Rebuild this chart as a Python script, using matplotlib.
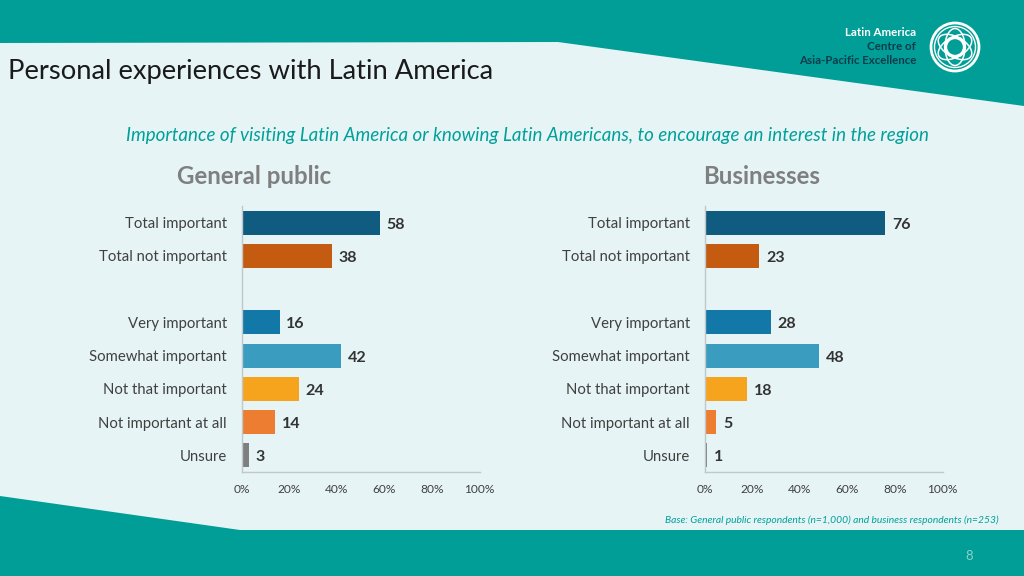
import matplotlib
matplotlib.use("Agg")
import matplotlib.pyplot as plt
from matplotlib.patches import Polygon, Circle, Ellipse

# ============================================================
# DATA
# ============================================================

categories = [
    "Total important",
    "Total not important",
    "",
    "Very important",
    "Somewhat important",
    "Not that important",
    "Not important at all",
    "Unsure",
]
public_values = [58, 38, None, 16, 42, 24, 14, 3]
business_values = [76, 23, None, 28, 48, 18, 5, 1]
bar_colors = [
    "#0F5C80", "#C55A11", "#FFFFFF", "#1278A8",
    "#3A9DBF", "#F6A31E", "#ED7D31", "#7F7F7F",
]
x_ticks = [0, 20, 40, 60, 80, 100]
x_tick_labels = ["0%", "20%", "40%", "60%", "80%", "100%"]

TEAL = "#009E97"
PALE = "#E6F4F5"
W, H = 1024, 576

plt.rcParams["font.family"] = ["Lato", "DejaVu Sans"]

fig = plt.figure(figsize=(W / 100, H / 100), dpi=100, facecolor=PALE)

# background in pixel coordinates
bg = fig.add_axes([0, 0, 1, 1])
bg.set_xlim(0, W)
bg.set_ylim(H, 0)
bg.axis("off")

bg.add_patch(Polygon(
    [(0, 0), (W, 0), (W, 106), (558, 42), (0, 43)],
    closed=True, fc=TEAL, ec="none"
))
bg.add_patch(Polygon(
    [(0, 496), (240, 530), (W, 530), (W, H), (0, H)],
    closed=True, fc=TEAL, ec="none"
))

# logo
bg.add_patch(Circle((955, 47), 24, fc="none", ec="white", lw=2))
bg.add_patch(Circle((955, 47), 20.5, fc="none", ec="white", lw=1))
for angle in [30, 90, 150]:
    bg.add_patch(Ellipse((955, 47), 37, 20, angle=angle,
                         fc="none", ec="white", lw=1.1))
bg.add_patch(Circle((955, 47), 9.5, fc=TEAL, ec="white", lw=2.4, zorder=3))

bg.text(916, 33, "Latin America", color="white", fontsize=8.3,
        fontweight="bold", ha="right", va="center")
bg.text(916, 47, "Centre of", color="#0B3C4C", fontsize=8.3,
        fontweight="bold", ha="right", va="center")
bg.text(916, 60, "Asia-Pacific Excellence", color="#0B3C4C", fontsize=8.3,
        fontweight="bold", ha="right", va="center")

bg.text(8, 71, "Personal experiences with Latin America", color="#1A1A1A",
        fontsize=19.7, ha="left", va="center")
bg.text(527.5, 135,
        "Importance of visiting Latin America or knowing Latin Americans, "
        "to encourage an interest in the region",
        color="#00A09A", fontsize=13.5, style="italic",
        ha="center", va="center")
bg.text(254, 176.5, "General public", color="#7F7F7F", fontsize=17.3,
        fontweight="bold", ha="center", va="center")
bg.text(762, 176.5, "Businesses", color="#7F7F7F", fontsize=17.3,
        fontweight="bold", ha="center", va="center")
bg.text(999, 520,
        "Base: General public respondents (n=1,000) and business "
        "respondents (n=253)",
        color="#00A09A", fontsize=7.36, style="italic",
        ha="right", va="center")
bg.text(969, 556, "8", color="#8CCFCB", fontsize=9.5,
        ha="center", va="center")


# ============================================================
# PANELS
# ============================================================

def draw_panel(left_px, values):

    ax = fig.add_axes([
        left_px / W,
        1 - 472 / H,
        238 / W,
        266 / H,
    ])
    ax.patch.set_alpha(0)

    positions = list(range(len(categories)))
    for pos, value, color in zip(positions, values, bar_colors):
        if value is None:
            continue
        ax.barh(pos, value, height=0.72, color=color, zorder=2)
        ax.text(value + 2.8, pos + 0.06, str(value), color="#333333",
                fontsize=11.5, fontweight="bold", ha="left", va="center")

    ax.set_xlim(0, 100)
    ax.set_ylim(len(categories) - 0.5, -0.5)

    ax.set_yticks(positions)
    ax.set_yticklabels(categories, fontsize=10.75, color="#404040")
    ax.set_xticks(x_ticks)
    ax.set_xticklabels(x_tick_labels, fontsize=8.6, color="#404040")
    ax.tick_params(axis="y", length=0, pad=10.5)
    ax.tick_params(axis="x", length=0, pad=8.5)

    for side in ["top", "right"]:
        ax.spines[side].set_visible(False)
    for side in ["left", "bottom"]:
        ax.spines[side].set_color("#BFC8CA")
        ax.spines[side].set_linewidth(1)

    return ax


draw_panel(241.5, public_values)
draw_panel(704.5, business_values)

fig.savefig("out.png", dpi=100, facecolor=PALE)
